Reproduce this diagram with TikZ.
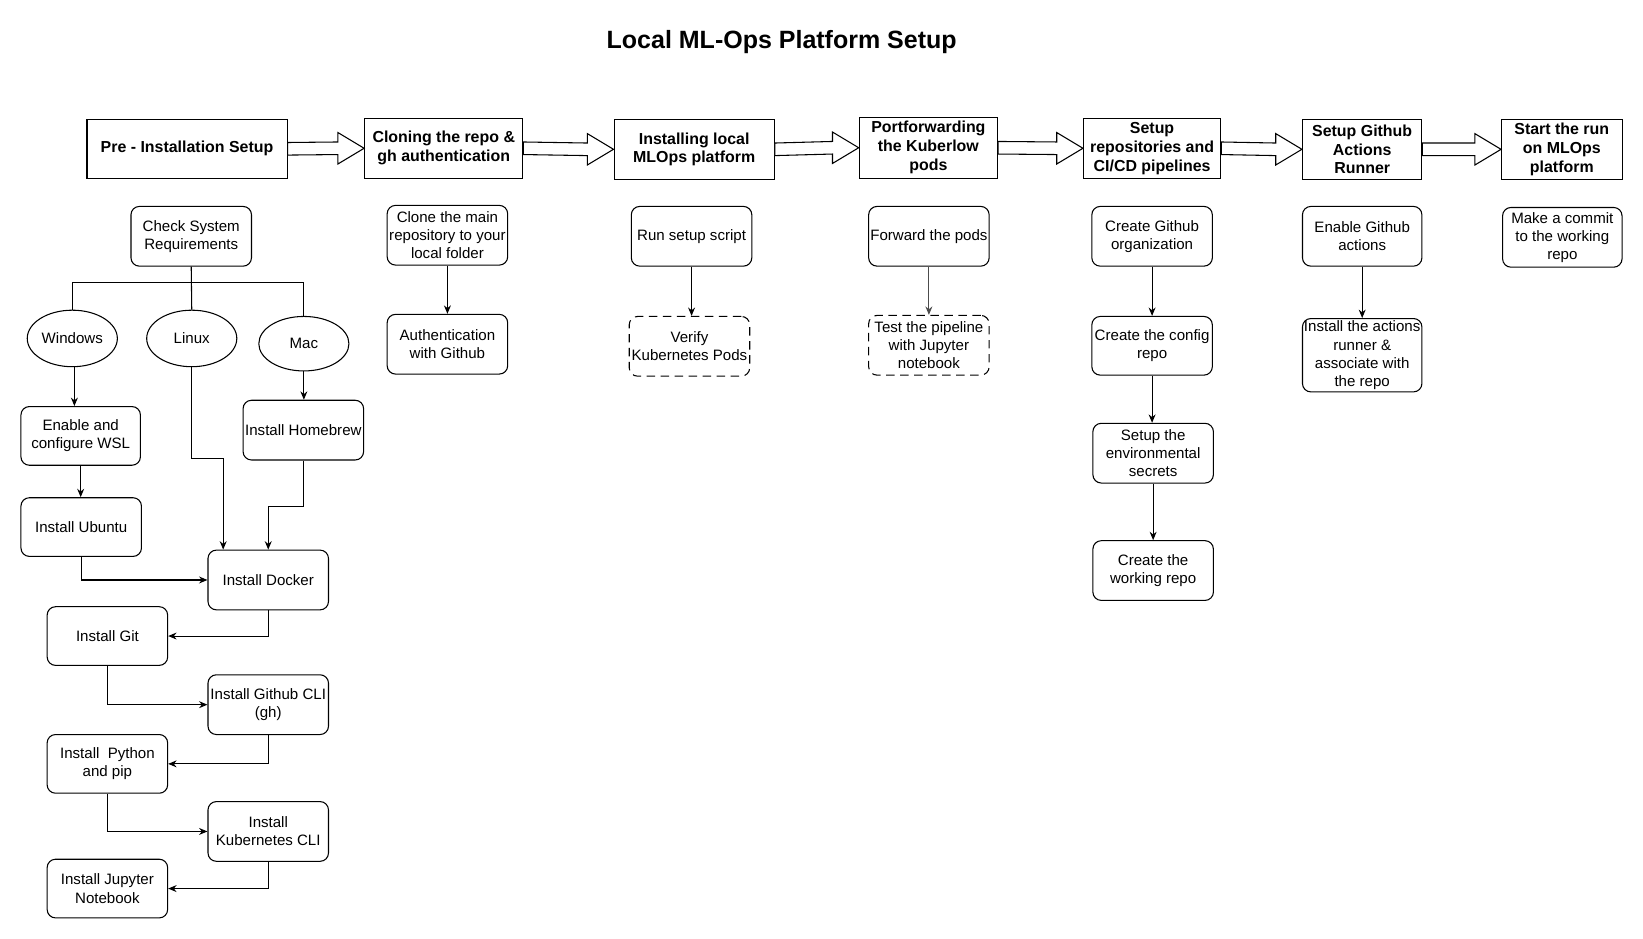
\documentclass[tikz,border=0pt]{standalone}
\usepackage{fontspec}
\setmainfont{Liberation Sans}
\usetikzlibrary{calc,arrows.meta,shapes.geometric}
\tikzset{
	phase/.style={draw, line width=0.8pt, align=center, inner sep=0pt, font=\bfseries\fontsize{11.95}{14.15}\selectfont},
	task/.style={draw, line width=0.8pt, rounded corners=6.3pt, align=center, inner sep=0pt, minimum width=90.4pt, minimum height=44.8pt, font=\fontsize{11.3}{13.6}\selectfont},
	taskdashed/.style={task, dash pattern=on 6.3pt off 4.2pt},
	platform/.style={draw, ellipse, line width=0.8pt, inner sep=0pt, minimum width=67.6pt, minimum height=42.4pt, font=\fontsize{11.3}{13.6}\selectfont},
	wh/.style 2 args={minimum width=#1*0.786pt, minimum height=#2*0.786pt},
	flow/.style={line width=0.8pt, -{Stealth[length=6.3pt,width=5.2pt]}},
	link/.style={line width=0.8pt},
	bigarrow/.style={line width=0.8pt, fill=white},
}
\def\phasearrow(#1)(#2){\draw[bigarrow] ($(#1.east)+(0,-6)$) -- ($(#2.west)+(-25,-6)$) -- ($(#2.west)+(-25,-15)$) -- (#2.west) -- ($(#2.west)+(-25,15)$) -- ($(#2.west)+(-25,6)$) -- ($(#1.east)+(0,6)$) -- cycle;}

\begin{document}
\begin{tikzpicture}[x=0.786pt, y=-0.786pt]
			%%%%% START %%%%%
			\useasboundingbox (0, 0) rectangle (1568, 896);
			
			\node[font=\bfseries\fontsize{18.75}{22}\selectfont] (title) at (746, 40) {Local ML-Ops Platform Setup};
			
			\node[phase, wh={191}{56}] (pre) at (178.5, 142) {Pre - Installation Setup};
			\node[phase, wh={151}{57}] (cloning) at (423.5, 141.5) {Cloning the repo \&\\gh authentication};
			\node[phase, wh={153}{57}] (installing) at (662.5, 142.5) {Installing local\\MLOps platform};
			\node[phase, wh={132}{58}] (portfwd) at (886, 141) {Portforwarding\\the Kuberlow\\pods};
			\node[phase, wh={131}{57}] (repos) at (1099.5, 141.5) {Setup\\repositories and\\CI/CD pipelines};
			\node[phase, wh={114}{57}] (runner) at (1300, 142.5) {Setup Github\\Actions\\Runner};
			\node[phase, wh={115}{57}] (startrun) at (1490.5, 142.5) {Start the run\\on MLOps\\platform};
			
			\phasearrow(pre)(cloning)
			\phasearrow(cloning)(installing)
			\phasearrow(installing)(portfwd)
			\phasearrow(portfwd)(repos)
			\phasearrow(repos)(runner)
			\phasearrow(runner)(startrun)
			
			\node[task] (check) at (182.5, 225.5) {Check System\\Requirements};
			\node[platform] (windows) at (69, 323) {Windows};
			\node[platform] (linux) at (183, 323) {Linux};
			\node[platform, wh={86}{52}] (mac) at (290, 328) {Mac};
			
			\draw[link] (check.south) -- (linux.north);
			\draw[link] (windows.north) |- ($(check.south)+(0,15)$) -| (mac.north);
			
			\node[task, wh={114}{56}] (wsl) at (77, 416) {Enable and\\configure WSL};
			\node[task, wh={115}{56}] (ubuntu) at (77.5, 503) {Install Ubuntu};
			\node[task] (brew) at (289.5, 410.5) {Install Homebrew};
			\node[task] (docker) at (256, 553.5) {Install Docker};
			\node[task, wh={115}{56}] (git) at (102.5, 607) {Install Git};
			\node[task] (ghcli) at (256, 672.5) {Install Github CLI\\(gh)};
			\node[task, wh={115}{56}] (python) at (102.5, 729) {Install\ \ Python\\and pip};
			\node[task] (kubectl) at (256, 793.5) {Install\\Kubernetes CLI};
			\node[task, wh={115}{56}] (jupyter) at (102.5, 848) {Install Jupyter\\Notebook};
			
			\draw[flow] ($(windows.south)+(2, 0)$) -- ($(windows.south |- wsl.north)+(2, 0)$);
			\draw[flow] (wsl.south) -- (wsl.south |- ubuntu.north);
			\draw[flow] (mac.south) -- (mac.south |- brew.north);
			\draw[flow] (linux.south) -- ++(0, 87) -| ($(docker.north)+(-43, 0)$);
			\draw[flow] (brew.south) -- ++(0, 44) -| (docker.north);
			\draw[flow] (ubuntu.south) |- (docker.west);
			\draw[flow] (docker.south) |- (git.east);
			\draw[flow] (git.south) |- (ghcli.west);
			\draw[flow] (ghcli.south) |- (python.east);
			\draw[flow] (python.south) |- (kubectl.west);
			\draw[flow] (kubectl.south) |- (jupyter.east);
			
			\node[task] (clone) at (427, 224.5) {Clone the main\\repository to your\\local folder};
			\node[task] (auth) at (427, 328.5) {Authentication\\with Github};
			\draw[flow] (clone.south) -- (clone.south |- auth.north);
			
			\node[task] (setup) at (660, 225.5) {Run setup script};
			\node[taskdashed] (verify) at (658, 330.5) {Verify\\Kubernetes Pods};
			\draw[flow] (setup.south) -- (setup.south |- verify.north);
			
			\node[task] (forward) at (886.5, 225.5) {Forward the pods};
			\node[taskdashed] (testpipe) at (886.5, 329.5) {Test the pipeline\\with Jupyter\\notebook};
			\draw[flow, black!70] (forward.south) -- (forward.south |- testpipe.north);
			
			\node[task] (org) at (1099.5, 225.5) {Create Github\\organization};
			\node[task, wh={115}{56}] (config) at (1099.5, 330) {Create the config\\repo};
			\node[task] (secrets) at (1100.5, 432.5) {Setup the\\environmental\\secrets};
			\node[task] (workrepo) at (1100.5, 544.5) {Create the\\working repo};
			\draw[flow] (org.south) -- (org.south |- config.north);
			\draw[flow] (config.south) -- (config.south |- secrets.north);
			\draw[flow] (secrets.south) -- (secrets.south |- workrepo.north);
			
			\node[task, wh={114}{57}] (actions) at (1300, 225.5) {Enable Github\\actions};
			\node[task, wh={114}{70}] (runnerinst) at (1300, 339) {Install the actions\\runner \&\\associate with\\the repo};
			\draw[flow] (actions.south) -- (actions.south |- runnerinst.north);
			
			\node[task, wh={114}{57}] (commit) at (1491, 226.5) {Make a commit\\to the working\\repo};
			%%%%% END %%%%%
\end{tikzpicture}
\end{document}
